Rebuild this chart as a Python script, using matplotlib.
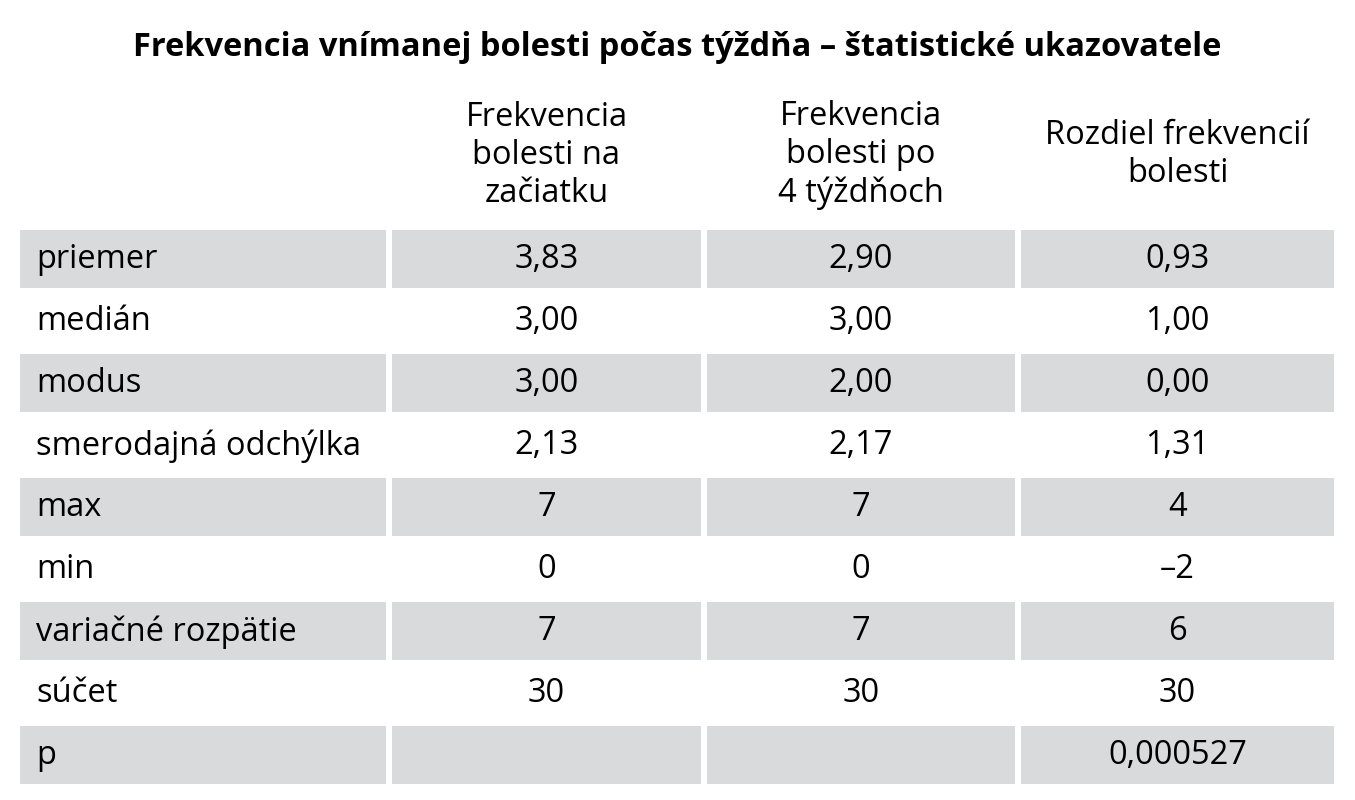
import matplotlib.pyplot as plt
from matplotlib.patches import Rectangle

plt.rcParams['font.family'] = ['Open Sans', 'DejaVu Sans']

title = "Frekvencia vnímanej bolesti počas týždňa – štatistické ukazovatele"
col_headers = ["Frekvencia\nbolesti na\nzačiatku", "Frekvencia\nbolesti po\n4 týždňoch", "Rozdiel frekvencií\nbolesti"]
row_labels = ["priemer", "medián", "modus", "smerodajná odchýlka", "max", "min",
              "variačné rozpätie", "súčet", "p"]
col_start = ["3,83", "3,00", "3,00", "2,13", "7", "0", "7", "30", ""]
col_after = ["2,90", "3,00", "2,00", "2,17", "7", "0", "7", "30", ""]
col_diff = ["0,93", "1,00", "0,00", "1,31", "4", "–2", "6", "30", "0,000527"]

W, H = 1355, 800
fig = plt.figure(figsize=(W / 100, H / 100), dpi=100)
ax = fig.add_axes([0, 0, 1, 1])
ax.set_xlim(0, W)
ax.set_ylim(H, 0)
ax.axis('off')

shade = '#d8dadb'
cols = [(20, 386), (392, 701), (707, 1015), (1021, 1334)]
top, row_h = 230, 62
fs = 23.5

ax.text(W / 2, 47, title, ha='center', va='center', fontsize=23.5, fontweight='bold')
for (x0, x1), h in zip(cols[1:], col_headers):
    ax.text((x0 + x1) / 2, 155, h, ha='center', va='center', fontsize=fs, linespacing=1.2)

for i, lab in enumerate(row_labels):
    y0 = top + i * row_h
    yc = y0 + row_h / 2
    if i % 2 == 0:
        for x0, x1 in cols:
            ax.add_patch(Rectangle((x0, y0), x1 - x0, row_h - 4, color=shade, lw=0))
    ax.text(cols[0][0] + 16, yc - 1, lab, ha='left', va='center', fontsize=fs)
    for (x0, x1), v in zip(cols[1:], [col_start[i], col_after[i], col_diff[i]]):
        ax.text((x0 + x1) / 2, yc - 1, v, ha='center', va='center', fontsize=fs)

fig.savefig('out.png', dpi=100)
